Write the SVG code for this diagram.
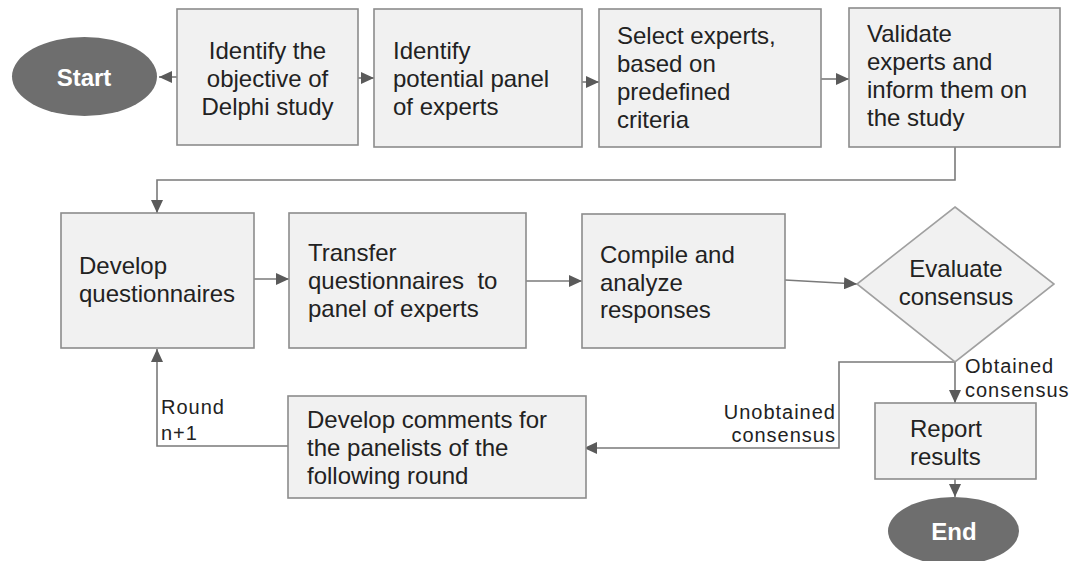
<svg xmlns="http://www.w3.org/2000/svg" width="1077" height="561" viewBox="0 0 1077 561">
<defs>
<marker id="ah" markerUnits="userSpaceOnUse" markerWidth="13" markerHeight="12" refX="13" refY="6" orient="auto">
<path d="M0,0 L13,6 L0,12 z" fill="#5a5a5a"/>
</marker>
<style>
.box{fill:#f1f1f1;stroke:#8c8c8c;stroke-width:1.6}
.term{fill:#6e6e6e}
.t{font-family:"Liberation Sans",Arial,sans-serif;font-size:24px;fill:#222}
.c{text-anchor:middle}
.tt{font-family:"Liberation Sans",Arial,sans-serif;font-size:24px;font-weight:bold;fill:#fff;text-anchor:middle}
.lb{font-family:"Liberation Sans",Arial,sans-serif;font-size:20px;fill:#222;letter-spacing:1px}
.ln{fill:none;stroke:#8a8a8a;stroke-width:1.6}
.ar{fill:none;stroke:#7a7a7a;stroke-width:1.6;marker-end:url(#ah)}
</style>
</defs>
<rect width="1077" height="561" fill="#fff"/>
<g id="connectors">
<line class="ar" x1="177" y1="77" x2="159" y2="77"/>
<line class="ar" x1="358" y1="78" x2="374" y2="78"/>
<line class="ar" x1="582" y1="82" x2="599" y2="82"/>
<line class="ar" x1="821" y1="79" x2="849" y2="79"/>
<polyline class="ar" points="955,147 955,180 157,180 157,213"/>
<line class="ar" x1="254" y1="279" x2="289" y2="279"/>
<line class="ar" x1="526" y1="281" x2="582" y2="281"/>
<line class="ar" x1="785" y1="280" x2="857" y2="284"/>
<line class="ar" x1="955" y1="362" x2="955" y2="403"/>
<polyline class="ar" points="955,362 839,362 839,448 584,448"/>
<polyline class="ar" points="288,446 157,446 157,349"/>
<line class="ar" x1="955" y1="479" x2="955" y2="497"/>
<text class="lb" x="965" y="373">Obtained</text>
<text class="lb" x="965" y="397">consensus</text>
<text class="lb" x="836" y="419" text-anchor="end">Unobtained</text>
<text class="lb" x="836" y="442" text-anchor="end">consensus</text>
<text class="lb" x="161" y="414">Round</text>
<text class="lb" x="161" y="440">n+1</text>
</g>
<g id="start">
<ellipse class="term" cx="84.5" cy="76.5" rx="72.5" ry="39.5"/>
<text class="tt" x="84" y="86">Start</text>
</g>
<g id="objective">
<rect class="box" x="177" y="9" width="181" height="136"/>
<text class="t c" x="267.5" y="59">Identify the</text>
<text class="t c" x="267.5" y="87">objective of</text>
<text class="t c" x="267.5" y="115">Delphi study</text>
</g>
<g id="panel">
<rect class="box" x="374" y="9" width="208" height="138"/>
<text class="t" x="393" y="59">Identify</text>
<text class="t" x="393" y="87">potential panel</text>
<text class="t" x="393" y="115">of experts</text>
</g>
<g id="select">
<rect class="box" x="599" y="9" width="222" height="138"/>
<text class="t" x="617" y="44">Select experts,</text>
<text class="t" x="617" y="72">based on</text>
<text class="t" x="617" y="100">predefined</text>
<text class="t" x="617" y="128">criteria</text>
</g>
<g id="validate">
<rect class="box" x="849" y="8" width="211" height="139"/>
<text class="t" x="867" y="42">Validate</text>
<text class="t" x="867" y="70">experts and</text>
<text class="t" x="867" y="98">inform them on</text>
<text class="t" x="867" y="126">the study</text>
</g>
<g id="develop">
<rect class="box" x="61" y="213" width="193" height="135"/>
<text class="t" x="79" y="274">Develop</text>
<text class="t" x="79" y="302">questionnaires</text>
</g>
<g id="transfer">
<rect class="box" x="289" y="213" width="237" height="135"/>
<text class="t" x="308" y="261">Transfer</text>
<text class="t" x="308" y="289" xml:space="preserve">questionnaires  to</text>
<text class="t" x="308" y="317">panel of experts</text>
</g>
<g id="compile">
<rect class="box" x="582" y="214" width="203" height="134"/>
<text class="t" x="600" y="263">Compile and</text>
<text class="t" x="600" y="291">analyze</text>
<text class="t" x="600" y="318">responses</text>
</g>
<g id="evaluate">
<polygon class="box" points="955,207 1054,284 955,362 857,284" style="stroke:#a0a0a0"/>
<text class="t c" x="956" y="277">Evaluate</text>
<text class="t c" x="956" y="305">consensus</text>
</g>
<g id="comments">
<rect class="box" x="288" y="396" width="298" height="102"/>
<text class="t" x="307" y="428">Develop comments for</text>
<text class="t" x="307" y="456">the panelists of the</text>
<text class="t" x="307" y="484">following round</text>
</g>
<g id="report">
<rect class="box" x="875" y="403" width="161" height="76"/>
<text class="t" x="910" y="437">Report</text>
<text class="t" x="910" y="465">results</text>
</g>
<g id="end">
<ellipse class="term" cx="953.5" cy="531" rx="65.5" ry="34"/>
<text class="tt" x="954" y="540">End</text>
</g>
</svg>
